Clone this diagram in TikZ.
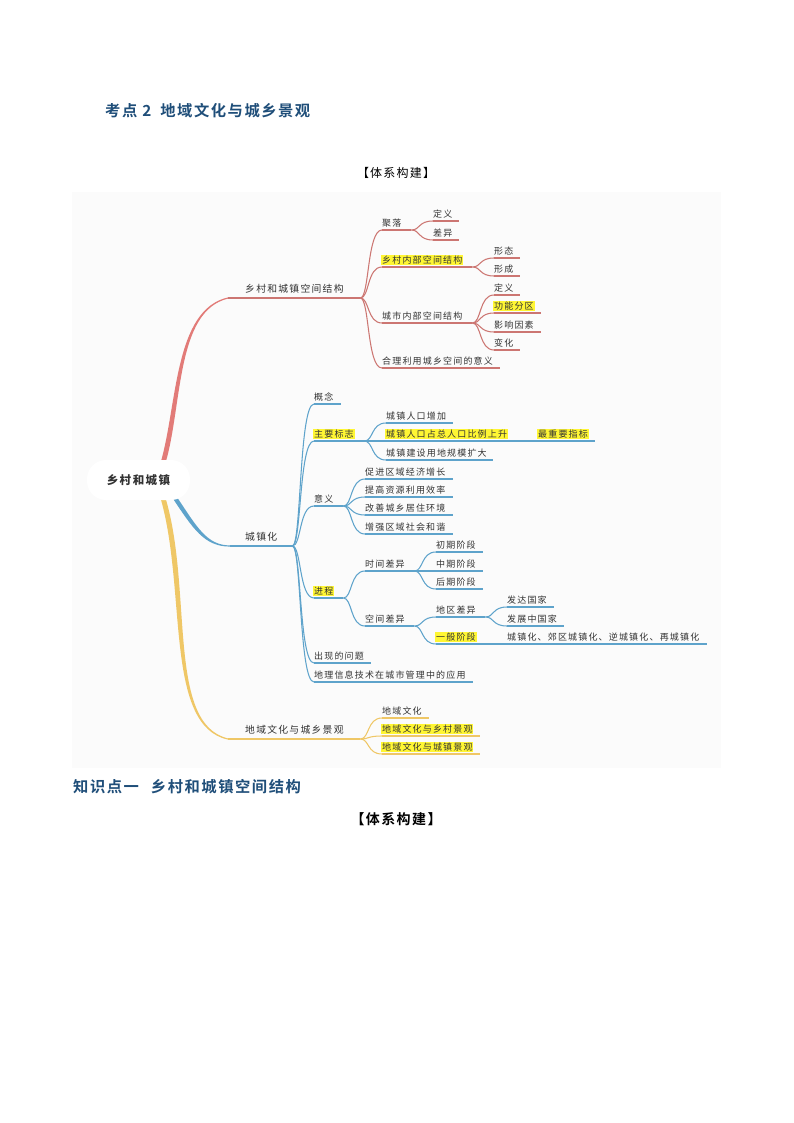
\documentclass[tikz,border=0pt]{standalone}
\usepackage{fontspec}
\usepackage{xcolor}
\setmainfont{Noto Sans CJK SC}
\newfontfamily\mapfont[LetterSpace=13]{Noto Sans CJK SC}
\newfontfamily\headfont[LetterSpace=10,BoldFont={Noto Sans CJK SC Bold}]{Noto Sans CJK SC}
\usetikzlibrary{calc}
\definecolor{redline}{HTML}{CC7672}
\definecolor{redthick}{HTML}{E27B78}
\definecolor{blueline}{HTML}{5EA3CB}
\definecolor{yelline}{HTML}{EFC766}
\definecolor{hiliteyel}{HTML}{FFF633}
\definecolor{headblue}{HTML}{1F4E79}
\newcommand{\hilite}[1]{\setlength{\fboxsep}{0.8pt}\kern-0.8pt\colorbox{hiliteyel}{#1}}
\tikzset{
  topic/.style={
    anchor=south west, inner xsep=0pt, inner ysep=2.6pt, text height=7.6pt, text depth=1pt,
    align=left, text=black!80, font={\mapfont\fontsize{9}{10}\selectfont},
    append after command={(\tikzlastnode.south west) edge[draw=#1, line width=1.05pt] (\tikzlastnode.south east)}
  },
  redtopic/.style={topic=redline},
  bluetopic/.style={topic=blueline},
  yeltopic/.style={topic=yelline},
  bigtopic/.style={font={\mapfont\fontsize{9.8}{11}\selectfont}, inner ysep=4.5pt},
  link/.style={draw=#1, line width=1.05pt, to path={.. controls +(9,0) and +(-15,0) .. (\tikztotarget)}},
  redlink/.style={link=redline},
  bluelink/.style={link=blueline},
  yellink/.style={link=yelline},
  headtext/.style={anchor=west, inner sep=0pt, text=headblue, font={\headfont\bfseries\fontsize{15.3}{18}\selectfont}}
}

\begin{document}
\begin{tikzpicture}[x=1pt, y=-1pt]
	\useasboundingbox (0,0) rectangle (794,1123);
	\fill [black!1.5] (72,192) rectangle (721,768);

	% headings
	\node [headtext] (title) at (105,111) {考点 2\hspace{9pt}地域文化与城乡景观};
	\node [inner sep=0pt, font={\headfont\fontsize{12}{14}\selectfont}] (sys) at (396,173) {【体系构建】};
	\node [headtext] (point) at (73,787) {知识点一\hspace{12pt}乡村和城镇空间结构};
	\node [inner sep=0pt, font={\headfont\bfseries\fontsize{14}{16}\selectfont}] (sysb) at (396,819) {【体系构建】};

	% red branch
	\node [redtopic, bigtopic, text width=115pt] (space) at (245,298) {乡村和城镇空间结构};
	\node [redtopic, text width=29pt] (settle) at (382,230) {聚落};
	\node [redtopic, text width=26pt] (settlea) at (433,221) {定义};
	\node [redtopic, text width=26pt] (settleb) at (433,240) {差异};
	\node [redtopic, text width=90pt] (rural) at (382,267) {\hilite{乡村内部空间结构}};
	\node [redtopic, text width=26pt] (rurala) at (494,258) {形态};
	\node [redtopic, text width=26pt] (ruralb) at (494,276) {形成};
	\node [redtopic, text width=90pt] (urban) at (382,323) {城市内部空间结构};
	\node [redtopic, text width=26pt] (urbana) at (494,295) {定义};
	\node [redtopic, text width=47pt] (urbanb) at (494,313) {\hilite{功能分区}};
	\node [redtopic, text width=47pt] (urbanc) at (494,332) {影响因素};
	\node [redtopic, text width=26pt] (urband) at (494,350) {变化};
	\node [redtopic, text width=118pt] (usage) at (382,368) {合理利用城乡空间的意义};
	\draw [redlink] (space.south east) to (settle.south west);
	\draw [redlink] (space.south east) to (rural.south west);
	\draw [redlink] (space.south east) to (urban.south west);
	\draw [redlink] (space.south east) to (usage.south west);
	\draw [redlink] (settle.south east) to (settlea.south west);
	\draw [redlink] (settle.south east) to (settleb.south west);
	\draw [redlink] (rural.south east) to (rurala.south west);
	\draw [redlink] (rural.south east) to (ruralb.south west);
	\draw [redlink] (urban.south east) to (urbana.south west);
	\draw [redlink] (urban.south east) to (urbanb.south west);
	\draw [redlink] (urban.south east) to (urbanc.south west);
	\draw [redlink] (urban.south east) to (urband.south west);

	% blue branch
	\node [bluetopic, bigtopic, text width=47pt] (town) at (245,546) {城镇化};
	\node [bluetopic, text width=27pt] (concept) at (314,404) {概念};
	\node [bluetopic, text width=50pt] (mark) at (314,441) {\hilite{主要标志}};
	\node [bluetopic, text width=67pt] (marka) at (386,423) {城镇人口增加};
	\node [bluetopic, text width=141pt] (markb) at (386,441) {\hilite{城镇人口占总人口比例上升}};
	\node [bluetopic, text width=57pt] (markc) at (538,441) {\hilite{最重要指标}};
	\node [bluetopic, text width=107pt] (markd) at (386,460) {城镇建设用地规模扩大};
	\node [bluetopic, text width=29pt] (sense) at (314,506) {意义};
	\node [bluetopic, text width=88pt] (sensea) at (365,479) {促进区域经济增长};
	\node [bluetopic, text width=88pt] (senseb) at (365,497) {提高资源利用效率};
	\node [bluetopic, text width=88pt] (sensec) at (365,515) {改善城乡居住环境};
	\node [bluetopic, text width=88pt] (sensed) at (365,534) {增强区域社会和谐};
	\node [bluetopic, text width=29pt] (course) at (314,598) {\hilite{进程}};
	\node [bluetopic, text width=49pt] (timed) at (365,571) {时间差异};
	\node [bluetopic, text width=47pt] (timea) at (436,552) {初期阶段};
	\node [bluetopic, text width=47pt] (timeb) at (436,571) {中期阶段};
	\node [bluetopic, text width=47pt] (timec) at (436,589) {后期阶段};
	\node [bluetopic, text width=49pt] (spaced) at (365,626) {空间差异};
	\node [bluetopic, text width=49pt] (region) at (436,617) {地区差异};
	\node [bluetopic, text width=47pt] (regiona) at (507,607) {发达国家};
	\node [bluetopic, text width=57pt] (regionb) at (507,626) {发展中国家};
	\node [bluetopic, text width=49pt] (stage) at (436,644) {\hilite{一般阶段}};
	\node [bluetopic, text width=200pt] (stagea) at (507,644) {城镇化、郊区城镇化、逆城镇化、再城镇化};
	\node [bluetopic, text width=57pt] (issue) at (314,663) {出现的问题};
	\node [bluetopic, text width=159pt] (gis) at (314,682) {地理信息技术在城市管理中的应用};
	\draw [bluelink] (town.south east) to (concept.south west);
	\draw [bluelink] (town.south east) to (mark.south west);
	\draw [bluelink] (town.south east) to (sense.south west);
	\draw [bluelink] (town.south east) to (course.south west);
	\draw [bluelink] (town.south east) to (issue.south west);
	\draw [bluelink] (town.south east) to (gis.south west);
	\draw [bluelink] (mark.south east) to (marka.south west);
	\draw [bluelink] (mark.south east) to (markb.south west);
	\draw [bluelink] (mark.south east) to (markd.south west);
	\draw [blueline, line width=1.05pt] (markb.south east) -- (markc.south west);
	\draw [bluelink] (sense.south east) to (sensea.south west);
	\draw [bluelink] (sense.south east) to (senseb.south west);
	\draw [bluelink] (sense.south east) to (sensec.south west);
	\draw [bluelink] (sense.south east) to (sensed.south west);
	\draw [bluelink] (course.south east) to (timed.south west);
	\draw [bluelink] (course.south east) to (spaced.south west);
	\draw [bluelink] (timed.south east) to (timea.south west);
	\draw [bluelink] (timed.south east) to (timeb.south west);
	\draw [bluelink] (timed.south east) to (timec.south west);
	\draw [bluelink] (spaced.south east) to (region.south west);
	\draw [bluelink] (spaced.south east) to (stage.south west);
	\draw [bluelink] (region.south east) to (regiona.south west);
	\draw [bluelink] (region.south east) to (regionb.south west);
	\draw [blueline, line width=1.05pt] (stage.south east) -- (stagea.south west);

	% yellow branch
	\node [yeltopic, bigtopic, text width=115pt] (culture) at (245,739) {地域文化与城乡景观};
	\node [yeltopic, text width=47pt] (culturea) at (382,718) {地域文化};
	\node [yeltopic, text width=98pt] (cultureb) at (382,736) {\hilite{地域文化与乡村景观}};
	\node [yeltopic, text width=98pt] (culturec) at (382,754) {\hilite{地域文化与城镇景观}};
	\draw [yellink] (culture.south east) to (culturea.south west);
	\draw [yellink] (culture.south east) to (cultureb.south west);
	\draw [yellink] (culture.south east) to (culturec.south west);

	% thick branches out of the root
	\coordinate (rootred) at (163,463);
	\coordinate (rootblue) at (175,498);
	\coordinate (rootyel) at (163,498);
	\coordinate (bendred) at (228,298);
	\coordinate (bendblue) at (230,546);
	\coordinate (bendyel) at (228,739);
	\fill [redthick] ($(rootred)+(-2.5,0)$) .. controls (177.5,405) and (174,309.5) .. ($(bendred)+(0,-0.6)$)
		-- ($(bendred)+(0,0.6)$) .. controls (176,311) and (182.5,405) .. ($(rootred)+(2.5,0)$) -- cycle;
	\fill [blueline] ($(rootblue)+(-2.5,0)$) .. controls (193,528.5) and (204,546.5) .. ($(bendblue)+(0,0.6)$)
		-- ($(bendblue)+(0,-0.6)$) .. controls (207,545.5) and (197,527) .. ($(rootblue)+(2.5,0)$) -- cycle;
	\fill [yelline] ($(rootyel)+(-2.5,0)$) .. controls (187,590) and (164,726) .. ($(bendyel)+(0,0.6)$)
		-- ($(bendyel)+(0,-0.6)$) .. controls (166.5,724) and (193,590) .. ($(rootyel)+(2.5,0)$) -- cycle;
	\draw [redline, line width=1.05pt] (bendred) -- (space.south west);
	\draw [blueline, line width=1.05pt] (bendblue) -- (town.south west);
	\draw [yelline, line width=1.05pt] (bendyel) -- (culture.south west);

	\node [fill=white, rounded corners=19pt, minimum width=103pt, minimum height=40pt, inner sep=0pt,
		font={\mapfont\bfseries\fontsize{11.5}{13}\selectfont}, text=black!80] (root) at (138.5,480) {乡村和城镇};
\end{tikzpicture}
\end{document}
